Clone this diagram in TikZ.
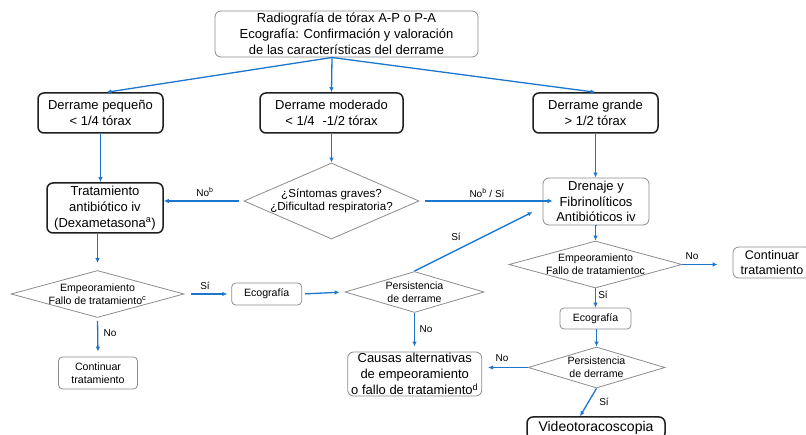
\documentclass[tikz,border=0pt]{standalone}
\usepackage{fontspec}
\setmainfont{Liberation Sans}
\usetikzlibrary{shapes.geometric,arrows.meta}
\definecolor{arrowblue}{RGB}{28,118,205}
\definecolor{boxgray}{RGB}{140,140,140}
\definecolor{boxdark}{RGB}{30,30,30}
\newcommand\mybig{\fontsize{13}{15.8}\selectfont}
\newcommand\mymid{\fontsize{11.6}{13.4}\selectfont}
\newcommand\mysmall{\fontsize{10.6}{13.2}\selectfont}
\begin{document}
\begin{tikzpicture}[x=1pt,y=-1pt,
  graybox/.style={draw=boxgray, line width=0.8pt, rounded corners=6pt, inner sep=0pt, align=center, font=\mybig},
  darkbox/.style={draw=boxdark, line width=1.5pt, rounded corners=6pt, inner sep=0pt, align=center, font=\mybig},
  smallbox/.style={draw=boxgray, line width=0.8pt, rounded corners=4pt, inner sep=0pt, align=center, font=\mysmall},
  dmd/.style={diamond, draw=boxgray, line width=0.8pt, inner sep=0pt},
  dtext/.style={align=center, inner sep=0pt, font=\mysmall},
  conn/.style={draw=arrowblue, line width=1.3pt, -{Latex[length=5pt,width=4.5pt]}},
  lbl/.style={font=\fontsize{10}{12}\selectfont, inner sep=0pt},
]
\useasboundingbox (0,0) rectangle (806,435);
\clip (0,0) rectangle (806,435);

% boxes
\node[graybox, minimum width=263pt, minimum height=46pt] (top) at (346.5,34)
  {Radiografía de tórax A-P o P-A\\Ecografía: Confirmación y valoración\\de las características del derrame};
\node[darkbox, minimum width=125pt, minimum height=40pt] (peq) at (100.5,113) {Derrame pequeño\\< 1/4 tórax};
\node[darkbox, minimum width=143pt, minimum height=40pt] (mod) at (331.5,113) {Derrame moderado\\< 1/4 \,\,-1/2 tórax};
\node[darkbox, minimum width=125pt, minimum height=40pt] (gra) at (595.5,113) {Derrame grande\\> 1/2 tórax};
\node[darkbox, minimum width=116pt, minimum height=50pt] (trat) at (105,208) {Tratamiento\\antibiótico iv\\(Dexametasona\textsuperscript{a})};
\node[dmd, minimum width=175pt, minimum height=76pt] (sint) at (331.5,201) {};
\node[dtext, font=\mymid] (sintt) at (sint.center) {¿Síntomas graves?\\¿Dificultad respiratoria?};
\node[graybox, minimum width=106pt, minimum height=47pt] (dren) at (596,201.5) {Drenaje y\\Fibrinolíticos\\Antibióticos iv};
\node[dmd, minimum width=173pt, minimum height=47pt] (emp2) at (595.5,264.5) {};
\node[dtext] (emp2t) at (emp2.center) {Empeoramiento\\Fallo de tratamientoc};
\node[graybox, minimum width=78pt, minimum height=31pt, font=\fontsize{12.5}{15}\selectfont] (cont2) at (772,262.5) {Continuar\\tratamiento};
\node[smallbox, minimum width=71pt, minimum height=21pt] (eco2) at (595.5,318.5) {Ecografía};
\node[dmd, minimum width=137pt, minimum height=41pt] (per2) at (596.5,367.5) {};
\node[dtext] (per2t) at (per2.center) {Persistencia\\de derrame};
\node[graybox, minimum width=134pt, minimum height=44pt] (caus) at (414.7,374) {Causas alternativas\\de empeoramiento\\o fallo de tratamiento\textsuperscript{d}};
\node[darkbox, minimum width=138pt, minimum height=22pt, font=\fontsize{14}{16}\selectfont] (video) at (596,428) {Videotoracoscopia};
\node[dmd, minimum width=173pt, minimum height=47pt] (emp1) at (97.5,294) {};
\node[dtext] (emp1t) at (emp1.center) {Empeoramiento\\Fallo de tratamiento\textsuperscript{c}};
\node[smallbox, minimum width=70pt, minimum height=22pt] (eco1) at (266.7,294) {Ecografía};
\node[dmd, minimum width=139pt, minimum height=41pt] (per1) at (414.5,292) {};
\node[dtext] (per1t) at (per1.center) {Persistencia\\de derrame};
\node[smallbox, minimum width=79pt, minimum height=32pt] (cont1) at (98,373) {Continuar\\tratamiento};

% connectors
\coordinate (fan) at (332,57.5);
\draw[conn] (fan) -- ([xshift=6pt]peq.north);
\draw[conn] (fan) -- (mod.north);
\draw[conn] (fan) -- (gra.north);
\draw[conn] (peq.south) -- (peq.south |- trat.north);
\draw[conn] (mod.south) -- (sint.north);
\draw[conn] (gra.south) -- (gra.south |- dren.north);
\draw[conn, shorten <=5pt] (sint.west) -- (sint.west -| trat.east);
\draw[conn, shorten <=6pt, shorten >=-10pt] (sint.east) -- (sint.east -| dren.west);
\draw[conn] (per1.north) -- ([xshift=-10pt,yshift=-10.5pt]dren.west);
\draw[conn, shorten >=7pt] (trat.south -| emp1.north) -- (emp1.north);
\draw[conn, shorten <=7pt, shorten >=4pt] (emp1.east) -- (eco1.west);
\draw[conn, shorten <=3pt, shorten >=5pt] (emp1.south) -- (cont1.north);
\draw[conn, shorten <=3pt, shorten >=5pt] (eco1.east) -- (per1.west);
\draw[conn, shorten >=5pt] (per1.south) -- (per1.south |- caus.north);
\draw[conn] (dren.south) -- (dren.south -| emp2.north) -- (emp2.north);
\draw[conn, shorten >=15pt] (emp2.east) -- (emp2.east -| cont2.west);
\draw[conn] (emp2.south) -- (eco2.north);
\draw[conn] (eco2.south) -- (eco2.south -| per2.north) -- (per2.north);
\draw[conn, shorten >=6pt] (per2.west) -- (per2.west -| caus.east);
\draw[conn] (per2.south) -- ([xshift=-16pt]video.north);

% labels
\node[lbl] (l1) at (205,192) {No\textsuperscript{b}};
\node[lbl] (l2) at (487,193) {No\textsuperscript{b} / Sí};
\node[lbl] (l3) at (456,237) {Sí};
\node[lbl] (l4) at (205,286) {Sí};
\node[lbl] (l5) at (110,333) {No};
\node[lbl] (l6) at (426,329) {No};
\node[lbl] (l7) at (692,256) {No};
\node[lbl] (l8) at (603,295) {Sí};
\node[lbl] (l9) at (502,358) {No};
\node[lbl] (l10) at (604,402) {Sí};
\end{tikzpicture}
\end{document}
